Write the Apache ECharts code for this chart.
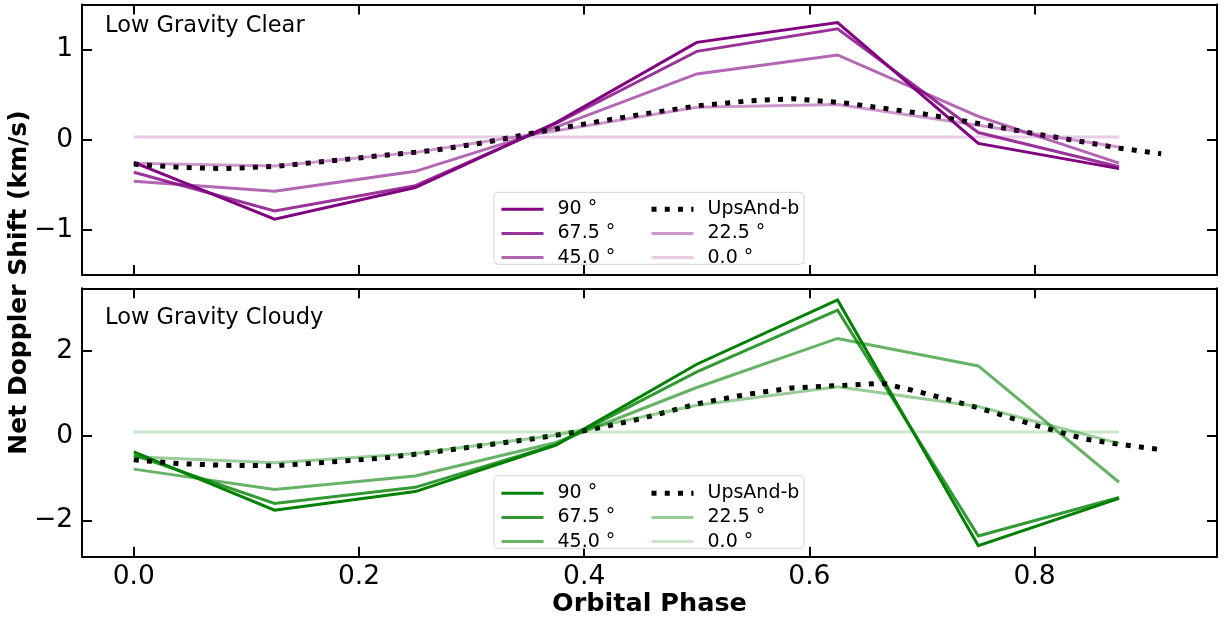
<!DOCTYPE html>
<html>
<head>
<meta charset="utf-8">
<script src="https://cdn.jsdelivr.net/npm/echarts@6/dist/echarts.min.js"></script>
<style>html,body{margin:0;padding:0;background:#fff;}#c{width:1225px;height:622px;}</style>
</head>
<body>
<div id="c"></div>
<script>
// ---- data ----
const phase = [0, 0.125, 0.25, 0.375, 0.5, 0.625, 0.75, 0.875];
const clear90  = [-0.25, -0.88, -0.53, 0.19, 1.08, 1.30, -0.04, -0.32];
const clear675 = [-0.36, -0.79, -0.51, 0.18, 0.98, 1.23, 0.08, -0.30];
const clear45  = [-0.46, -0.57, -0.35, 0.14, 0.73, 0.94, 0.26, -0.26];
const clear225 = [-0.26, -0.29, -0.14, 0.10, 0.36, 0.39, 0.16, -0.08];
const clear0   = [0.03, 0.03, 0.03, 0.03, 0.03, 0.03, 0.03, 0.03];
const cloudy90  = [-0.38, -1.76, -1.32, -0.22, 1.69, 3.21, -2.60, -1.48];
const cloudy675 = [-0.46, -1.60, -1.22, -0.21, 1.51, 2.97, -2.37, -1.46];
const cloudy45  = [-0.79, -1.27, -0.95, -0.16, 1.14, 2.30, 1.65, -1.10];
const cloudy225 = [-0.50, -0.64, -0.42, 0.01, 0.72, 1.16, 0.69, -0.18];
const cloudy0   = [0.09, 0.09, 0.09, 0.09, 0.09, 0.09, 0.09, 0.09];
const upsPhase = [0, 0.04, 0.08, 0.125, 0.175, 0.22, 0.265, 0.31, 0.355, 0.405, 0.45, 0.5, 0.545, 0.585, 0.63, 0.665, 0.7, 0.75, 0.8, 0.845, 0.875, 0.9125];
const clearUps  = [-0.27, -0.305, -0.32, -0.295, -0.235, -0.175, -0.12, -0.035, 0.075, 0.185, 0.28, 0.375, 0.43, 0.455, 0.41, 0.35, 0.29, 0.18, 0.067, -0.027, -0.093, -0.156];
const cloudyUps = [-0.57, -0.66, -0.70, -0.71, -0.62, -0.53, -0.39, -0.23, -0.07, 0.14, 0.40, 0.75, 0.98, 1.13, 1.19, 1.24, 1.02, 0.66, 0.25, -0.08, -0.20, -0.33];
const angleLabels = ['90 °', '67.5 °', '45.0 °', '22.5 °', '0.0 °'];
const upsLabel = 'UpsAnd-b';
const xTicks = [0, 0.2, 0.4, 0.6, 0.8];
const clearYTicks = [-1, 0, 1];
const cloudyYTicks = [-2, 0, 2];
const panelTitles = ['Low Gravity Clear', 'Low Gravity Cloudy'];
const xTitle = 'Orbital Phase';
const yTitle = 'Net Doppler Shift (km/s)';

// ---- styles ----
const FONT = 'DejaVu Sans';
const TICK_FS = 26.5;
const opac = [1, 0.8, 0.6, 0.4, 0.2];
const panelColor = ['rgb(128,0,128)', 'rgb(0,128,0)'];
const fmtNum = (v, d) => { const s = Math.abs(v).toFixed(d); return v < 0 ? '\u2212' + s : s; };

const chart = echarts.init(document.getElementById('c'), null, {renderer: 'canvas'});

const grids = [
  {left: 82, top: 4.5, width: 1135, height: 270.5},
  {left: 82, top: 288.3, width: 1135, height: 268.4}
];
const xMin = -0.046, xMax = 0.962;
const yRanges = [[-1.5, 1.5], [-2.86, 3.485]];
const yTickSets = [clearYTicks, cloudyYTicks];

const axisLine = {show: true, onZero: false, lineStyle: {color: '#000', width: 2}};
const tick = vals => ({show: true, inside: true, length: 10, lineStyle: {color: '#000', width: 2}, customValues: vals});

const xAxis = [], yAxis = [];
[0, 1].forEach(g => {
  ['bottom', 'top'].forEach(pos => {
    const showLab = (g === 1 && pos === 'bottom');
    xAxis.push({
      type: 'value', gridIndex: g, position: pos, min: xMin, max: xMax,
      axisLine: axisLine, axisTick: tick(xTicks), splitLine: {show: false},
      axisLabel: showLab ? {show: true, customValues: xTicks, margin: 7, fontSize: TICK_FS, fontFamily: FONT, color: '#000', formatter: v => fmtNum(v, 1)} : {show: false}
    });
  });
  ['left', 'right'].forEach(pos => {
    yAxis.push({
      type: 'value', gridIndex: g, position: pos, min: yRanges[g][0], max: yRanges[g][1],
      axisLine: axisLine, axisTick: tick(yTickSets[g]), splitLine: {show: false},
      axisLabel: pos === 'left' ? {show: true, customValues: yTickSets[g], margin: 9, fontSize: TICK_FS, fontFamily: FONT, color: '#000', formatter: v => fmtNum(v, 0)} : {show: false}
    });
  });
});

const pairs = (xs, ys) => xs.map((x, i) => [x, ys[i]]);
const panelData = [
  [clear90, clear675, clear45, clear225, clear0],
  [cloudy90, cloudy675, cloudy45, cloudy225, cloudy0]
];
const upsData = [clearUps, cloudyUps];
const keys = ['clear', 'cloudy'];

const series = [];
[0, 1].forEach(g => {
  const order = [0, 1, 2, 'ups', 3, 4];
  order.forEach(k => {
    if (k === 'ups') {
      series.push({
        type: 'line', name: keys[g] + '|' + upsLabel, xAxisIndex: g * 2, yAxisIndex: g * 2,
        data: pairs(upsPhase, upsData[g]), symbol: 'none', showSymbol: false, smooth: false,
        lineStyle: {color: '#000', width: 5, type: [5, 8.25], cap: 'butt'},
        itemStyle: {color: '#000'}, z: 2
      });
    } else {
      series.push({
        type: 'line', name: keys[g] + '|' + angleLabels[k], xAxisIndex: g * 2, yAxisIndex: g * 2,
        data: pairs(phase, panelData[g][k]), symbol: 'none', showSymbol: false,
        lineStyle: {color: panelColor[g], width: 3, opacity: opac[k], cap: 'butt', join: 'miter'},
        itemStyle: {color: panelColor[g], opacity: opac[k]}, z: 2
      });
    }
  });
});

const legendTops = [199.7, 483.7];
const legends = [];
[0, 1].forEach(g => {
  const cols = [
    [angleLabels[0], angleLabels[1], angleLabels[2]],
    [upsLabel, angleLabels[3], angleLabels[4]]
  ];
  [500, 649].forEach((lx, ci) => {
    legends.push({
      show: true, orient: 'vertical', left: lx, top: legendTops[g], padding: 0,
      itemWidth: 42, itemHeight: 14, itemGap: 5.2, selectedMode: false,
      itemStyle: {opacity: 0},
      lineStyle: {width: 'inherit', type: 'inherit', opacity: 'inherit', cap: 'butt'},
      data: cols[ci].map(n => keys[g] + '|' + n),
      formatter: name => name.split('|')[1],
      textStyle: {fontSize: 19, fontFamily: FONT, color: '#000', padding: [0, 0, 0, 9]},
      z: 5
    });
  });
});

const graphic = [
  {type: 'rect', z: 3, shape: {x: 494, y: 192.3, width: 310, height: 72, r: 4}, style: {fill: 'rgba(255,255,255,0.8)', stroke: '#d3d3d3', lineWidth: 1}},
  {type: 'rect', z: 3, shape: {x: 494, y: 475.7, width: 310, height: 72.6, r: 4}, style: {fill: 'rgba(255,255,255,0.8)', stroke: '#d3d3d3', lineWidth: 1}},
  {type: 'text', z: 6, x: 105, y: 26, style: {text: panelTitles[0], x: 0, y: 0, fontSize: 22.5, fontFamily: FONT, fill: '#000', align: 'left', verticalAlign: 'middle'}},
  {type: 'text', z: 6, x: 105, y: 318.5, style: {text: panelTitles[1], x: 0, y: 0, fontSize: 22.5, fontFamily: FONT, fill: '#000', align: 'left', verticalAlign: 'middle'}},
  {type: 'text', z: 6, x: 649.5, y: 604.5, style: {text: xTitle, x: 0, y: 0, fontSize: 25.5, fontWeight: 'bold', fontFamily: FONT, fill: '#000', align: 'center', verticalAlign: 'middle'}},
  {type: 'text', z: 6, x: 19.5, y: 282.5, rotation: Math.PI / 2, style: {text: yTitle, x: 0, y: 0, fontSize: 25, fontWeight: 'bold', fontFamily: FONT, fill: '#000', align: 'center', verticalAlign: 'middle'}}
];

chart.setOption({
  animation: false,
  backgroundColor: '#fff',
  grid: grids,
  xAxis: xAxis,
  yAxis: yAxis,
  legend: legends,
  series: series,
  graphic: graphic
});
</script>
</body>
</html>
